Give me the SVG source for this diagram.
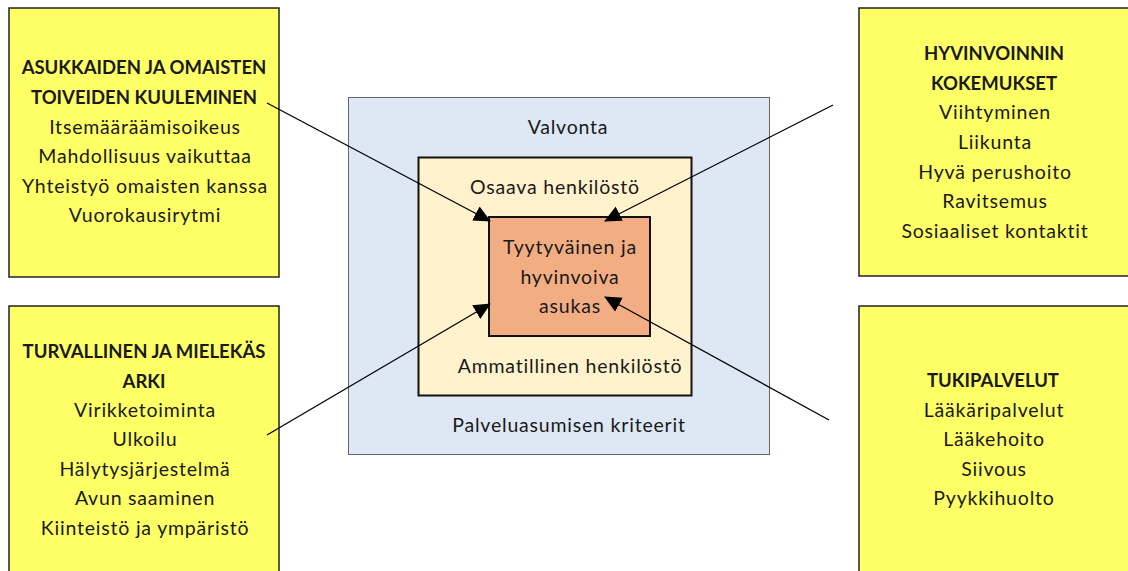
<svg xmlns="http://www.w3.org/2000/svg" width="1128" height="571" viewBox="0 0 1128 571">
<style>
text{font-family:Lato,"Open Sans","Liberation Sans",sans-serif;font-size:19.5px;letter-spacing:0.8px;fill:#1a1a1a;text-anchor:middle}
.b{font-weight:bold;font-size:18.5px;letter-spacing:0}
.y{fill:#FFFF66;stroke:#222;stroke-width:1.5}
.c{stroke:#000;stroke-width:1.3;fill:none;marker-end:url(#ah)}
</style>
<defs>
<marker id="ah" markerUnits="userSpaceOnUse" markerWidth="18" markerHeight="16" refX="16" refY="8" orient="auto" viewBox="0 0 18 16">
<path d="M0,0 L17,8 L0,16 Z" fill="#000"/>
</marker>
</defs>
<rect width="1128" height="571" fill="#fff"/>
<g id="n-valvonta">
<rect x="348.5" y="97.5" width="421" height="357" fill="#DDE8F4" stroke="#666" stroke-width="1"/>
<text x="568" y="134">Valvonta</text>
<text x="569" y="432">Palveluasumisen kriteerit</text>
</g>
<g id="n-henkilosto">
<rect x="418.5" y="157.5" width="273" height="238" fill="#FFF2CC" stroke="#111" stroke-width="2"/>
<text x="555" y="194">Osaava henkilöstö</text>
<text x="570" y="373">Ammatillinen henkilöstö</text>
</g>
<g id="n-asukas">
<rect x="489" y="217" width="161" height="119" fill="#F2AD83" stroke="#111" stroke-width="2"/>
<text x="570" y="254">Tyytyväinen ja</text>
<text x="570" y="284">hyvinvoiva</text>
<text x="570" y="313">asukas</text>
</g>
<g id="n-asukkaat">
<rect class="y" x="9" y="8" width="270" height="269"/>
<text class="b" x="144" y="74">ASUKKAIDEN JA OMAISTEN</text>
<text class="b" x="144" y="104">TOIVEIDEN KUULEMINEN</text>
<text x="145" y="134">Itsemääräämisoikeus</text>
<text x="145" y="163">Mahdollisuus vaikuttaa</text>
<text x="145" y="193">Yhteistyö omaisten kanssa</text>
<text x="145" y="222">Vuorokausirytmi</text>
</g>
<g id="n-hyvinvointi">
<rect class="y" x="859" y="8" width="275" height="268"/>
<text class="b" x="994" y="60">HYVINVOINNIN</text>
<text class="b" x="994" y="90">KOKEMUKSET</text>
<text x="995" y="119">Viihtyminen</text>
<text x="995" y="149">Liikunta</text>
<text x="995" y="179">Hyvä perushoito</text>
<text x="995" y="208">Ravitsemus</text>
<text x="995" y="238">Sosiaaliset kontaktit</text>
</g>
<g id="n-arki">
<rect class="y" x="9" y="306" width="270" height="275"/>
<text class="b" x="144" y="358">TURVALLINEN JA MIELEKÄS</text>
<text class="b" x="144" y="388">ARKI</text>
<text x="145" y="417">Virikketoiminta</text>
<text x="145" y="446">Ulkoilu</text>
<text x="145" y="476">Hälytysjärjestelmä</text>
<text x="145" y="505">Avun saaminen</text>
<text x="145" y="535">Kiinteistö ja ympäristö</text>
</g>
<g id="n-tukipalvelut">
<rect class="y" x="859" y="306" width="275" height="275"/>
<text class="b" x="993" y="387">TUKIPALVELUT</text>
<text x="994" y="417">Lääkäripalvelut</text>
<text x="994" y="446">Lääkehoito</text>
<text x="994" y="476">Siivous</text>
<text x="994" y="505">Pyykkihuolto</text>
</g>
<g id="connectors">
<line class="c" x1="267" y1="103" x2="490" y2="221"/>
<line class="c" x1="833" y1="105" x2="605" y2="221"/>
<line class="c" x1="267" y1="435" x2="490" y2="304"/>
<line class="c" x1="829" y1="420" x2="605" y2="297"/>
</g>
</svg>
